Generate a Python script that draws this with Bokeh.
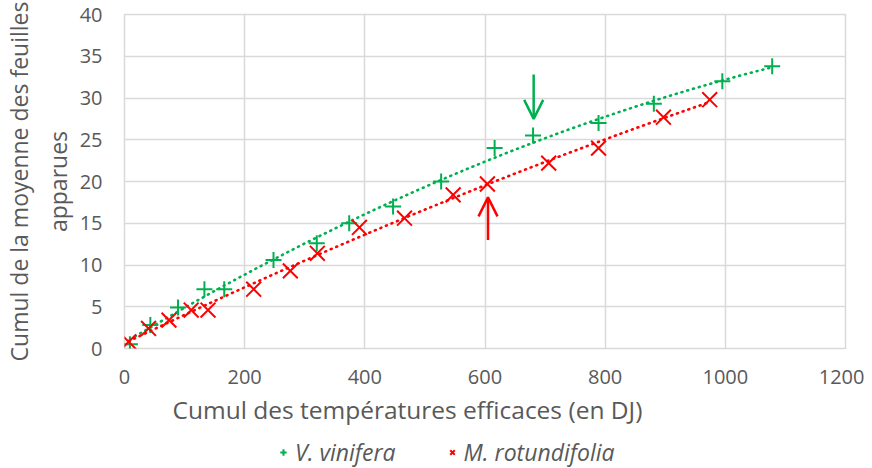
import numpy as np
from bokeh.plotting import figure
from bokeh.layouts import column
from bokeh.models import Range1d, FixedTicker, Legend, LegendItem, Arrow, OpenHead, Label
from bokeh.embed import file_html
from bokeh.resources import INLINE

# ---- data ----
vin_x = [9, 43, 89, 133, 166, 248, 320, 374, 447, 527, 616, 680, 789, 881, 995, 1078]
vin_y = [0.5, 2.8, 4.9, 7.1, 7.1, 10.6, 12.6, 15.0, 17.0, 20.0, 24.0, 25.5, 27.0, 29.3, 32.0, 33.8]
rot_x = [7, 40, 74, 111, 139, 215, 276, 321, 391, 466, 547, 604, 706, 789, 897, 974]
rot_y = [0.8, 2.4, 3.4, 4.6, 4.6, 7.1, 9.3, 11.4, 14.5, 15.6, 18.4, 19.7, 22.2, 24.0, 27.7, 29.8]
x_ticks = [0, 200, 400, 600, 800, 1000, 1200]
y_ticks = [0, 5, 10, 15, 20, 25, 30, 35, 40]
arrow_x = [681, 605]
arrow_y_start = [32.8, 13.0]
arrow_y_end = [27.5, 18.1]
series_names = ["V. vinifera", "M. rotundifolia"]
x_title = "Cumul des températures efficaces (en DJ)"
y_title = "Cumul de la moyenne des feuilles\napparues"

GREEN = "#00B050"
RED = "#FF0000"
TXT = "#595959"
GRID = "#D9D9D9"
FONT = "Open Sans"

p = figure(frame_width=721, frame_height=334, x_range=Range1d(0, 1200), y_range=Range1d(0, 40),
           output_backend="svg", toolbar_location=None,
           min_border_left=116, min_border_right=19, min_border_top=14, min_border_bottom=44)

p.outline_line_color = GRID
p.outline_line_width = 1.5
for g in (p.xgrid, p.ygrid):
    g.grid_line_color = GRID
    g.grid_line_width = 1.5

p.xaxis.ticker = FixedTicker(ticks=x_ticks)
p.yaxis.ticker = FixedTicker(ticks=y_ticks)
for ax in (p.xaxis, p.yaxis):
    ax.axis_line_color = None
    ax.major_tick_line_color = None
    ax.minor_tick_line_color = None
    ax.major_label_text_color = TXT
    ax.major_label_text_font = FONT
    ax.major_label_text_font_size = "20px"
    ax.axis_label_text_color = TXT
    ax.axis_label_text_font = FONT
    ax.axis_label_text_font_style = "normal"

p.yaxis.axis_label_text_font_size = "23px"
p.yaxis.axis_label = y_title
p.xaxis.major_label_standoff = 15
p.yaxis.major_label_standoff = 16
p.yaxis.axis_label_standoff = 3

# trendlines (2nd order polynomial fits, as Excel)
for xs, ys, col in ((vin_x, vin_y, GREEN), (rot_x, rot_y, RED)):
    coef = np.polyfit(xs, ys, 2)
    tx = np.linspace(min(xs), max(xs), 200)
    p.line(tx, np.polyval(coef, tx), line_color=col, line_width=2.6,
           line_dash="1 5", line_cap="round")

p.scatter(vin_x, vin_y, marker="cross", size=16, line_color=GREEN, line_width=2)
p.scatter(rot_x, rot_y, marker="x", size=21, line_color=RED, line_width=2)

for xa, ys, ye, col in zip(arrow_x, arrow_y_start, arrow_y_end, (GREEN, RED)):
    p.add_layout(Arrow(end=OpenHead(size=19, line_color=col, line_width=2.5),
                       x_start=xa, y_start=ys, x_end=xa, y_end=ye,
                       line_color=col, line_width=2.5))

# ---- lower strip: x-axis title (left of centre, as in reference) and legend ----
p2 = figure(frame_width=721, frame_height=75, x_range=Range1d(0, 1), y_range=Range1d(0, 1),
            output_backend="svg", toolbar_location=None,
            x_axis_location=None, y_axis_location=None,
            min_border_left=116, min_border_right=19, min_border_top=0, min_border_bottom=0)
p2.grid.visible = False
p2.outline_line_color = None

p2.add_layout(Label(x=48, y=58, x_units="screen", y_units="screen", text=x_title,
                    text_align="left", text_baseline="middle", text_font=FONT,
                    text_font_size="24.5px", text_color=TXT))

# legend swatches (one point each, outside the visible strip range)
gv = p2.scatter([-5], [-5], marker="cross", size=16, line_color=GREEN, line_width=2)
gr = p2.scatter([-5], [-5], marker="x", size=21, line_color=RED, line_width=2)
legend = Legend(items=[LegendItem(label=series_names[0], renderers=[gv]),
                       LegendItem(label=series_names[1], renderers=[gr])],
                orientation="horizontal", location=(151, -1),
                border_line_color=None, background_fill_alpha=0,
                label_text_font=FONT, label_text_font_style="italic",
                label_text_color=TXT, label_text_font_size="23px",
                glyph_width=16, glyph_height=16, label_standoff=4, spacing=48,
                padding=0, margin=0)
p2.add_layout(legend, "center")

open("out.html", "w").write(file_html(column(p, p2), INLINE))
